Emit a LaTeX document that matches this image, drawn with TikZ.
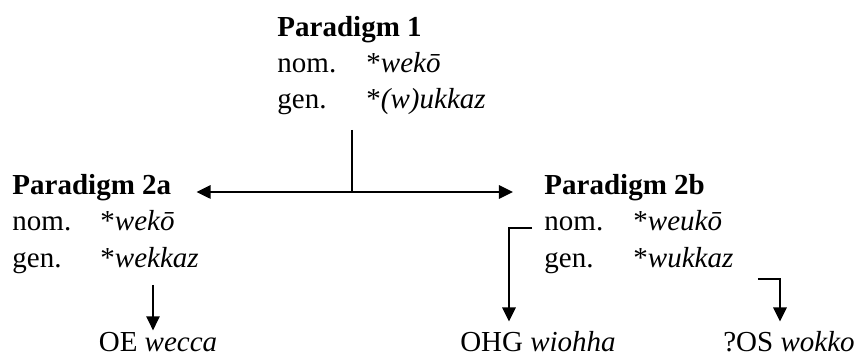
\documentclass[tikz,border=0pt]{standalone}
\usepackage{fontspec}
\setmainfont{Liberation Serif}
\usetikzlibrary{arrows.meta}
\tikzset{
  heading/.style={font=\fontsize{12}{14}\selectfont\bfseries,anchor=base west,inner sep=0pt},
  word/.style={font=\fontsize{12}{14}\selectfont,anchor=base west,inner sep=0pt},
  reflex/.style={font=\fontsize{12}{14}\selectfont,anchor=base,inner sep=0pt},
  stem/.style={draw=black,line width=0.6pt},
  arr/.style={-{Triangle[length=5.8pt,width=5.6pt]},draw=black,line width=0.6pt}
}
\begin{document}
\begin{tikzpicture}[x=0.4138pt,y=-0.4138pt]
\path[use as bounding box] (0,0) rectangle (859,356);
\node[heading] (p1) at (277,37) {Paradigm 1};
\node[word] (p1nom) at (277,73) {nom.}; \node[word] (p1nomf) at (366,73) {*\textit{wekō}};
\node[word] (p1gen) at (277,109) {gen.}; \node[word] (p1genf) at (366,109) {*\textit{(w)ukkaz}};
\node[heading] (p2a) at (12,195) {Paradigm 2a};
\node[word] (p2anom) at (12,231) {nom.}; \node[word] (p2anomf) at (100,231) {*\textit{wekō}};
\node[word] (p2agen) at (12,268) {gen.}; \node[word] (p2agenf) at (100,268) {*\textit{wekkaz}};
\node[heading] (p2b) at (544,195) {Paradigm 2b};
\node[word] (p2bnom) at (544,231) {nom.}; \node[word] (p2bnomf) at (633,231) {*\textit{weukō}};
\node[word] (p2bgen) at (544,268) {gen.}; \node[word] (p2bgenf) at (633,268) {*\textit{wukkaz}};
\node[reflex] (oe) at (158,352) {OE \textit{wecca}};
\node[reflex] (ohg) at (538,352) {OHG \textit{wiohha}};
\node[reflex] (os) at (789,352) {?OS \textit{wokko}};
\coordinate (split) at (352,192);
\draw[stem] ([shift={(-14,21)}]p1genf.base west) -- (split);
\draw[arr] (split) -- ([shift={(25,-3)}]p2a.base east);
\draw[arr] (split) -- ([shift={(-31,-3)}]p2b.base west);
\draw[arr] ([shift={(53,17)}]p2agenf.base west) -- ([shift={(-5,-2)}]oe.north);
\draw[arr] ([shift={(-12,-3)}]p2bnom.base west) -| ([shift={(-29,-10)}]ohg.north);
\draw[arr] ([shift={(24,11)}]p2bgenf.base east) -| ([shift={(-9,-10)}]os.north);
\end{tikzpicture}
\end{document}
